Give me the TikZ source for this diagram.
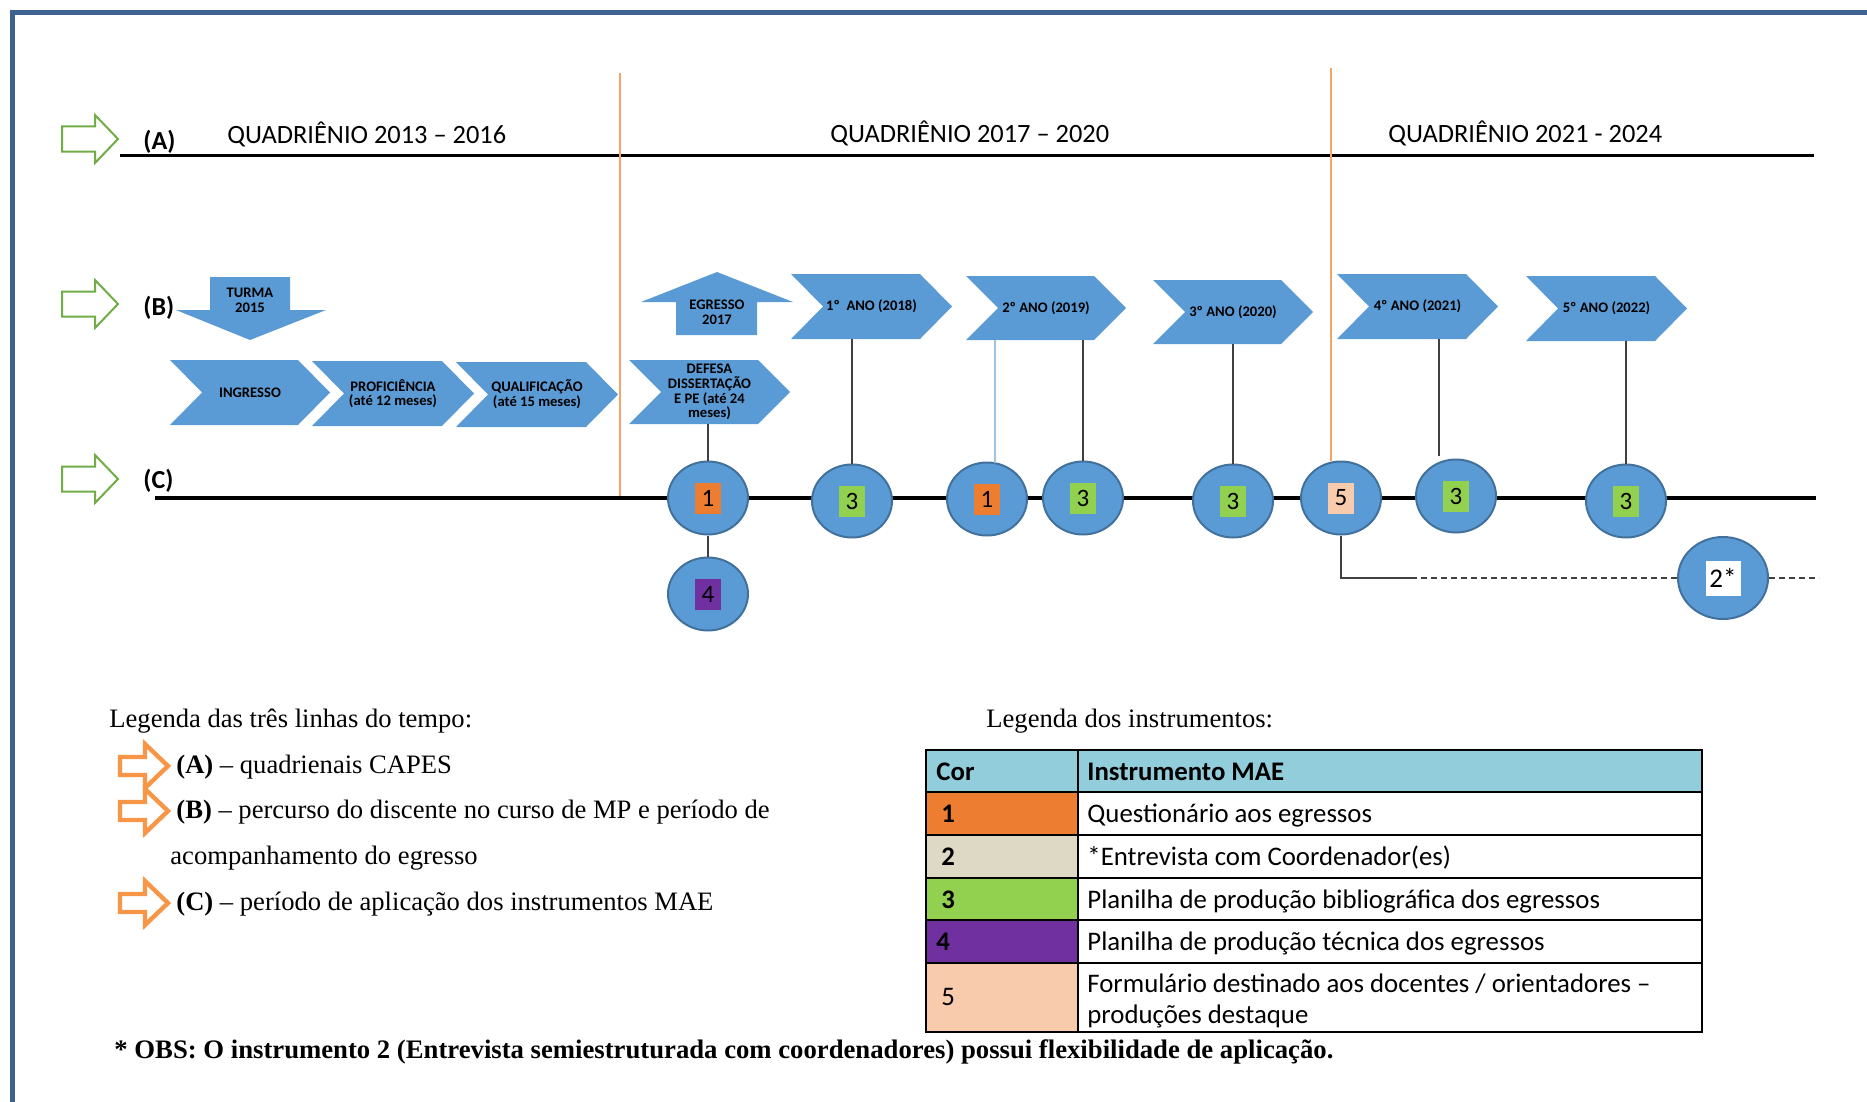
\documentclass[tikz,border=0pt]{standalone}
\usepackage{fontspec}
\setmainfont{Liberation Serif}
\newfontfamily\calfont{Carlito}
\usetikzlibrary{shapes.geometric}
\definecolor{frameblue}{HTML}{3F6190}
\definecolor{chevblue}{HTML}{5B9BD5}
\definecolor{circedge}{HTML}{41719C}
\definecolor{garrow}{HTML}{70AD47}
\definecolor{oarrow}{HTML}{F79646}
\definecolor{vline}{HTML}{F4A46A}
\definecolor{lblue}{HTML}{9DC3E6}
\definecolor{hdr}{HTML}{92CDDC}
\definecolor{cone}{HTML}{ED7D31}
\definecolor{ctwo}{HTML}{DDD9C4}
\definecolor{cthree}{HTML}{92D050}
\definecolor{cfour}{HTML}{7030A0}
\definecolor{cfive}{HTML}{F8CBAD}
\definecolor{connc}{HTML}{404040}
\newcommand{\chevshape}[6]{%
  \fill[chevblue] (#1,#3) -- ({#2-32},#3) -- (#2,{(#3+#4)/2}) -- ({#2-32},#4) -- (#1,#4) -- ({#1+32},{(#3+#4)/2}) -- cycle;
  \node[chevtxt, minimum width={(#2-#1)*0.5pt}, minimum height={(#4-#3)*0.5pt}] (#5) at ({(#1+#2)/2},{(#3+#4)/2}) {#6};}
\newcommand{\greenarrow}[1]{\draw[garrowst] (62,{#1-12.5}) -- (95,{#1-12.5}) -- (95,{#1-24}) -- (118,#1) -- (95,{#1+24}) -- (95,{#1+12.5}) -- (62,{#1+12.5}) -- cycle;}
\newcommand{\orangearrow}[1]{\draw[oarrowst] (120,{#1-9}) -- (145,{#1-9}) -- (145,{#1-22}) -- (168,#1) -- (145,{#1+22}) -- (145,{#1+9}) -- (120,{#1+9}) -- cycle;}
\begin{document}
\begin{tikzpicture}[x=0.5pt,y=-0.5pt,
  chevtxt/.style={font=\calfont\bfseries\fontsize{7.3}{7.4}\selectfont, align=center, inner sep=0pt, text=black},
  circ/.style={ellipse, draw=circedge, fill=chevblue, line width=1pt, minimum width=40pt, minimum height=36.5pt, inner sep=0pt},
  sq/.style={minimum width=13pt, minimum height=15.5pt, inner sep=0pt, font=\calfont\fontsize{12.5}{12.5}\selectfont},
  conn/.style={draw=connc, line width=0.6pt},
  garrowst/.style={draw=garrow, line width=1pt, fill=white},
  oarrowst/.style={draw=oarrow, line width=2.2pt, fill=white},
  vl/.style={draw=vline, line width=0.8pt},
  tline/.style={draw=black, line width=1.6pt},
  quad/.style={font=\calfont\fontsize{13.2}{13.2}\selectfont, anchor=base west, inner sep=0pt},
  lab/.style={font=\calfont\bfseries\fontsize{13}{13}\selectfont, anchor=base west, inner sep=0pt},
  leg/.style={font=\fontsize{13.3}{13.3}\selectfont, anchor=base west, inner sep=0pt},
  tbltxt/.style={font=\calfont\fontsize{13.4}{13.4}\selectfont, anchor=base west, inner sep=0pt},
  tblbold/.style={tbltxt, font=\calfont\bfseries\fontsize{13.4}{13.4}\selectfont},
  tbl/.style={draw=black, line width=1.2pt}]
\useasboundingbox (0,0) rectangle (1867,1102);
% frame
\draw[frameblue, line width=2.5pt] (12.5,1102) -- (12.5,12.5) -- (1867,12.5);
% row labels
\greenarrow{139}
\greenarrow{304}
\greenarrow{479}
\node[lab] (la) at (143,149) {(A)};
\node[lab] (lb) at (143,315) {(B)};
\node[lab] (lc) at (143,488) {(C)};
% timeline A
\coordinate (aL) at (120,155.5);
\coordinate (aR) at (1814,155.5);
\draw[tline] (aL) -- (aR);
\node[quad] (q1) at (227,143) {QUADRIÊNIO 2013 – 2016};
\node[quad] (q2) at (830,142) {QUADRIÊNIO 2017 – 2020};
\node[quad] (q3) at (1388,142) {QUADRIÊNIO 2021 - 2024};
% vertical orange separators
\coordinate (v1t) at (620,73);
\coordinate (v1b) at (620,498);
\draw[vl] (v1t) -- (v1b);
% TURMA down arrow
\fill[chevblue] (210,277) -- (290,277) -- (290,310) -- (326,310) -- (250,340) -- (176,310) -- (210,310) -- cycle;
\node[chevtxt] (turma) at (250,300) {TURMA\\2015};
% EGRESSO up arrow
\fill[chevblue] (676,335) -- (757,335) -- (757,302) -- (793,302) -- (717,272) -- (641,302) -- (676,302) -- cycle;
\node[chevtxt] (egresso) at (717,312) {EGRESSO\\2017};
% chevrons lower
\chevshape{170}{330}{360}{425}{ingresso}{INGRESSO}
\chevshape{312}{474}{361}{426}{profic}{PROFICIÊNCIA\\(até 12 meses)}
\chevshape{456}{618}{362}{427}{qualif}{QUALIFICAÇÃO\\(até 15 meses)}
\chevshape{629}{790}{360}{424}{defesa}{DEFESA\\DISSERTAÇÃO\\E PE (até 24\\meses)}
% chevrons upper
\chevshape{791}{952}{274}{339}{ano1}{1º\ \ ANO (2018)}
\chevshape{966}{1126}{276}{340}{ano2}{2º ANO (2019)}
\chevshape{1153}{1313}{280}{344}{ano3}{3º ANO (2020)}
\chevshape{1337}{1498}{274}{339}{ano4}{4º ANO (2021)}
\chevshape{1526}{1687}{276}{341}{ano5}{5º ANO (2022)}
% timeline C
\coordinate (cL) at (155,498);
\coordinate (cR) at (1816,498);
\draw[draw=black, line width=1.75pt] (cL) -- (cR);
% circles
\node[circ] (c1a) at (708,498) {};
\node[circ] (c4) at (708,594) {};
\node[circ] (c3a) at (852,501) {};
\node[circ] (c1b) at (987,499) {};
\node[circ] (c3b) at (1083,498) {};
\node[circ] (c3c) at (1233,501) {};
\node[circ] (c5) at (1341,498) {};
\node[circ] (c3d) at (1456,496) {};
\node[circ] (c3e) at (1626,501) {};
\node[circ, minimum width=45pt, minimum height=41pt] (c2) at (1723,578) {};
\node[sq, fill=cone] (s1a) at (c1a) {1};
\node[sq, fill=cfour] (s4) at (c4) {4};
\node[sq, fill=cthree] (s3a) at (c3a) {3};
\node[sq, fill=cone] (s1b) at (c1b) {1};
\node[sq, fill=cthree] (s3b) at (c3b) {3};
\node[sq, fill=cthree] (s3c) at (c3c) {3};
\node[sq, fill=cfive] (s5) at (c5) {5};
\node[sq, fill=cthree] (s3d) at (c3d) {3};
\node[sq, fill=cthree] (s3e) at (c3e) {3};
\node[sq, fill=white, minimum width=17.5pt, minimum height=17.5pt, font=\calfont\fontsize{13.5}{13.5}\selectfont] (s2) at (c2) {2*};
% connectors
\draw[conn] (c1a.north) -- (c1a.north |- defesa.south);
\draw[conn] (c1a.south) -- (c4.north);
\draw[conn] (ano1.south -| c3a.north) -- (c3a.north);
\coordinate (k2) at (995,463);
\draw[draw=lblue, line width=0.8pt] (ano2.south -| k2) -- (k2);
\draw[conn] (ano2.south -| c3b.north) -- (c3b.north);
\draw[conn] (ano3.south -| c3c.north) -- (c3c.north);
\coordinate (k4) at (1439,456);
\draw[conn] (ano4.south -| k4) -- (k4);
\draw[conn] (ano5.south -| c3e.north) -- (c3e.north);
\coordinate (v2t) at (1331,68);
\draw[vl] (v2t) -- (v2t |- c5.north);
\coordinate (dstart) at (1411,578);
\coordinate (dend) at (1819,578);
\draw[conn] (c5.south) |- (dstart);
\draw[conn, dash pattern=on 3pt off 2pt] (dstart) -- (c2.west);
\draw[conn, dash pattern=on 3pt off 2pt] (c2.east) -- (dend);
% legend of timelines
\node[leg] (legt) at (109,727) {Legenda das três linhas do tempo:};
\orangearrow{766}
\orangearrow{811}
\orangearrow{903}
\node[leg] (lega) at (176,773) {\textbf{(A)} – quadrienais CAPES};
\node[leg] (legb) at (176,818) {\textbf{(B)} – percurso do discente no curso de MP e período de};
\node[leg] (legb2) at (170,864) {acompanhamento do egresso};
\node[leg] (legc) at (176,910) {\textbf{(C)} – período de aplicação dos instrumentos MAE};
% legend of instruments
\node[leg] (legi) at (986,727) {Legenda dos instrumentos:};
\fill[hdr] (926,750) rectangle (1702,792);
\fill[cone] (926,792) rectangle (1078,835);
\fill[ctwo] (926,835) rectangle (1078,878);
\fill[cthree] (926,878) rectangle (1078,920);
\fill[cfour] (926,920) rectangle (1078,963);
\fill[cfive] (926,963) rectangle (1078,1032);
\draw[tbl] (926,750) rectangle (1702,1032);
\foreach \yy in {792,835,878,920,963} {\draw[tbl] (926,\yy) -- (1702,\yy);}
\draw[tbl] (1078,750) -- (1078,1032);
\node[tblbold] (hcor) at (936,780) {Cor};
\node[tblbold] (hins) at (1087,780) {Instrumento MAE};
\node[tblbold] (n1) at (941,822) {1};
\node[tblbold] (n2) at (941,865) {2};
\node[tblbold] (n3) at (941,908) {3};
\node[tblbold] (n4) at (936,950) {4};
\node[tbltxt] (n5) at (941,1005) {5};
\node[tbltxt] (t1) at (1087,822) {Questionário aos egressos};
\node[tbltxt] (t2) at (1087,865) {*Entrevista com Coordenador(es)};
\node[tbltxt] (t3) at (1087,908) {Planilha de produção bibliográfica dos egressos};
\node[tbltxt] (t4) at (1087,950) {Planilha de produção técnica dos egressos};
\node[tbltxt] (t5a) at (1087,992) {Formulário destinado aos docentes / orientadores –};
\node[tbltxt] (t5b) at (1087,1023) {produções destaque};
% note
\node[leg, font=\bfseries\fontsize{13.35}{13.35}\selectfont] (obs) at (114,1058) {* OBS: O instrumento 2 (Entrevista semiestruturada com coordenadores) possui flexibilidade de aplicação.};
\end{tikzpicture}
\end{document}
